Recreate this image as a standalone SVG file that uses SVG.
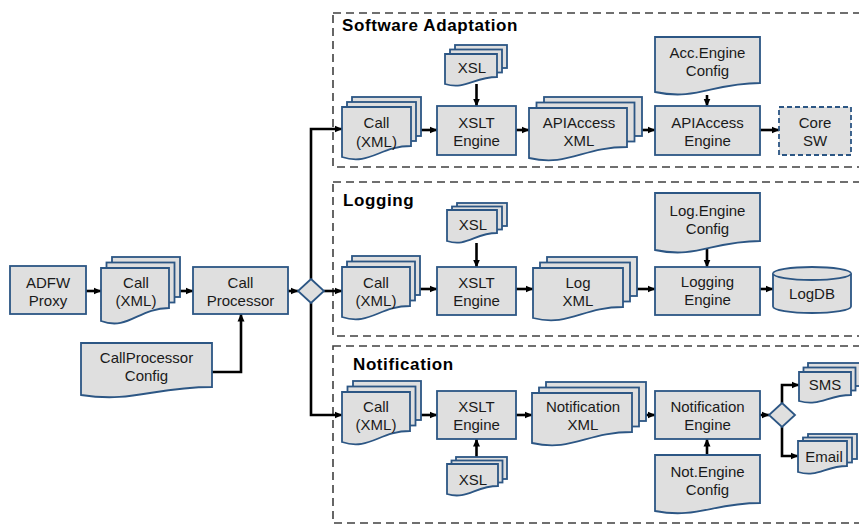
<svg xmlns="http://www.w3.org/2000/svg" width="859" height="526" viewBox="0 0 859 526">
  <defs>
    <marker id="arrow" viewBox="0 0 8 8" refX="7.5" refY="4" markerWidth="8" markerHeight="8" markerUnits="userSpaceOnUse" orient="auto">
      <path d="M0,0.5 L8,4 L0,7.5 Z" fill="#000"/>
    </marker>
    <style>
      .box { fill: #dfdfdf; stroke: #2c5684; stroke-width: 1.8; }
      .dashbox { fill: #dfdfdf; stroke: #2c5684; stroke-width: 1.8; stroke-dasharray: 5 3; }
      .grp { fill: none; stroke: #404040; stroke-width: 1.6; stroke-dasharray: 8 5; }
      .lbl { font-family: "Liberation Sans", Arial, sans-serif; font-size: 15px; fill: #1a1a1a; text-anchor: middle; }
      .title { font-family: "Liberation Sans", Arial, sans-serif; font-size: 17px; font-weight: bold; fill: #000; letter-spacing: 0.6px; }
      .conn { fill: none; stroke: #000; stroke-width: 2.6; marker-end: url(#arrow); }
    </style>
  </defs>

  <rect width="859" height="526" fill="#fff"/>

  <!-- processing lanes -->
  <g id="lanes">
    <rect class="grp" x="333" y="13" width="540" height="154"/>
    <rect class="grp" x="333" y="182" width="540" height="154"/>
    <rect class="grp" x="333" y="346" width="540" height="177"/>
    <text class="title" x="342" y="31">Software Adaptation</text>
    <text class="title" x="343" y="206">Logging</text>
    <text class="title" x="353" y="370">Notification</text>
  </g>

  <!-- connectors -->
  <g id="connectors">
    <path class="conn" d="M86,291 H101"/>
    <path class="conn" d="M180,291 H193"/>
    <path class="conn" d="M288,291 H298"/>
    <path class="conn" d="M212,372 H241 V314"/>
    <path class="conn" d="M324,291 H342"/>
    <path class="conn" d="M311,279 V129 H342"/>
    <path class="conn" d="M311,303 V415 H342"/>

    <path class="conn" d="M421,130 H437"/>
    <path class="conn" d="M516,130 H529"/>
    <path class="conn" d="M642,130 H655"/>
    <path class="conn" d="M476.5,84 V106"/>
    <path class="conn" d="M707,95 V106"/>
    <path class="conn" d="M760,130 H779"/>

    <path class="conn" d="M420,289 H437"/>
    <path class="conn" d="M516,289 H533"/>
    <path class="conn" d="M637,289 H655"/>
    <path class="conn" d="M476.5,243 V267"/>
    <path class="conn" d="M707,249 V267"/>
    <path class="conn" d="M760,289 H773"/>

    <path class="conn" d="M421,415 H437"/>
    <path class="conn" d="M516,415 H532"/>
    <path class="conn" d="M646,415 H655"/>
    <path class="conn" d="M476.5,457 V439"/>
    <path class="conn" d="M707,455 V439"/>
    <path class="conn" d="M760,415 H769"/>
    <path class="conn" d="M782,403 V385 H799"/>
    <path class="conn" d="M782,427 V456 H798"/>
  </g>

  <!-- input stage -->
  <g id="adfw-proxy">
    <rect class="box" x="10" y="266" width="76" height="48"/>
    <text class="lbl" x="48" y="288">ADFW</text>
    <text class="lbl" x="48" y="306">Proxy</text>
  </g>

  <g id="call-xml">
    <rect class="box" x="112" y="257" width="68" height="40"/>
    <rect class="box" x="106.5" y="262.5" width="68" height="40"/>
    <path class="box" d="M101,268 H169 V308 C138.4,308 128.2,331 101,321 Z"/>
    <text class="lbl" x="136" y="288">Call</text>
    <text class="lbl" x="136" y="306">(XML)</text>
  </g>

  <g id="call-processor">
    <rect class="box" x="193" y="267" width="95" height="47"/>
    <text class="lbl" x="240.5" y="288">Call</text>
    <text class="lbl" x="240.5" y="306">Processor</text>
  </g>

  <g id="call-processor-config">
    <path class="box" d="M81,343 H212 V387 C153.05,387 133.4,403 81,395 Z"/>
    <text class="lbl" x="146.5" y="363">CallProcessor</text>
    <text class="lbl" x="146.5" y="381">Config</text>
  </g>

  <g id="dispatch">
    <path class="box" d="M311,279 L324,291 L311,303 L298,291 Z"/>
  </g>

  <!-- software adaptation lane -->
  <g id="sa-call-xml">
    <rect class="box" x="352" y="97" width="69" height="39"/>
    <rect class="box" x="347" y="102" width="69" height="39"/>
    <path class="box" d="M342,107 H411 V146 C379.95,146 369.6,166 342,157 Z"/>
    <text class="lbl" x="376.5" y="128">Call</text>
    <text class="lbl" x="376.5" y="147">(XML)</text>
  </g>

  <g id="sa-xsl">
    <rect class="box" x="455" y="45" width="52" height="23"/>
    <rect class="box" x="450" y="49.5" width="52" height="23"/>
    <path class="box" d="M445,54 H497 V77 C473.6,77 465.8,90 445,84 Z"/>
    <text class="lbl" x="472" y="73">XSL</text>
  </g>

  <g id="sa-xslt-engine">
    <rect class="box" x="437" y="106" width="79" height="49"/>
    <text class="lbl" x="476.5" y="128">XSLT</text>
    <text class="lbl" x="476.5" y="146">Engine</text>
  </g>

  <g id="apiaccess-xml">
    <rect class="box" x="544" y="97" width="98" height="39"/>
    <rect class="box" x="536.5" y="102.5" width="98" height="39"/>
    <path class="box" d="M529,108 H627 V147 C582.9,147 568.2,167 529,158 Z"/>
    <text class="lbl" x="579" y="128">APIAccess</text>
    <text class="lbl" x="579" y="146">XML</text>
  </g>

  <g id="acc-engine-config">
    <path class="box" d="M655,37 H760 V83 C712.75,83 697,101 655,92 Z"/>
    <text class="lbl" x="707.5" y="58">Acc.Engine</text>
    <text class="lbl" x="707.5" y="76">Config</text>
  </g>

  <g id="apiaccess-engine">
    <rect class="box" x="655" y="106" width="105" height="49"/>
    <text class="lbl" x="707.5" y="128">APIAccess</text>
    <text class="lbl" x="707.5" y="146">Engine</text>
  </g>

  <g id="core-sw">
    <rect class="dashbox" x="779" y="107" width="72" height="48"/>
    <text class="lbl" x="815" y="128">Core</text>
    <text class="lbl" x="815" y="146">SW</text>
  </g>

  <!-- logging lane -->
  <g id="log-call-xml">
    <rect class="box" x="352" y="256" width="68" height="39"/>
    <rect class="box" x="347" y="261.5" width="68" height="39"/>
    <path class="box" d="M342,267 H410 V306 C379.4,306 369.2,326 342,317 Z"/>
    <text class="lbl" x="376" y="288">Call</text>
    <text class="lbl" x="376" y="306">(XML)</text>
  </g>

  <g id="log-xsl">
    <rect class="box" x="457" y="203" width="50" height="23"/>
    <rect class="box" x="452" y="206.5" width="50" height="23"/>
    <path class="box" d="M447,210 H497 V233 C474.5,233 467,247.5 447,241 Z"/>
    <text class="lbl" x="473" y="230">XSL</text>
  </g>

  <g id="log-xslt-engine">
    <rect class="box" x="437" y="267" width="79" height="48"/>
    <text class="lbl" x="476.5" y="288">XSLT</text>
    <text class="lbl" x="476.5" y="306">Engine</text>
  </g>

  <g id="log-xml">
    <rect class="box" x="547" y="257" width="90" height="39"/>
    <rect class="box" x="540" y="262.5" width="90" height="39"/>
    <path class="box" d="M533,268 H623 V307 C582.5,307 569,327 533,318 Z"/>
    <text class="lbl" x="578" y="288">Log</text>
    <text class="lbl" x="578" y="306">XML</text>
  </g>

  <g id="log-engine-config">
    <path class="box" d="M655,193 H760 V241 C712.75,241 697,259 655,250 Z"/>
    <text class="lbl" x="707.5" y="216">Log.Engine</text>
    <text class="lbl" x="707.5" y="234">Config</text>
  </g>

  <g id="logging-engine">
    <rect class="box" x="655" y="267" width="105" height="48"/>
    <text class="lbl" x="707.5" y="287">Logging</text>
    <text class="lbl" x="707.5" y="305">Engine</text>
  </g>

  <g id="logdb">
    <path class="box" d="M773,273.5 A39,6.5 0 0 1 851,273.5 V306.5 A39,6.5 0 0 1 773,306.5 Z"/>
    <path class="box" d="M773,273.5 A39,6.5 0 0 0 851,273.5" fill="none"/>
    <text class="lbl" x="812" y="299">LogDB</text>
  </g>

  <!-- notification lane -->
  <g id="not-call-xml">
    <rect class="box" x="353" y="381" width="68" height="39"/>
    <rect class="box" x="347.5" y="386.5" width="68" height="39"/>
    <path class="box" d="M342,392 H410 V431 C379.4,431 369.2,451 342,442 Z"/>
    <text class="lbl" x="376" y="412">Call</text>
    <text class="lbl" x="376" y="430">(XML)</text>
  </g>

  <g id="not-xslt-engine">
    <rect class="box" x="437" y="391" width="79" height="48"/>
    <text class="lbl" x="476.5" y="412">XSLT</text>
    <text class="lbl" x="476.5" y="430">Engine</text>
  </g>

  <g id="not-xsl">
    <rect class="box" x="456" y="457" width="51" height="22"/>
    <rect class="box" x="451.5" y="460.5" width="51" height="22"/>
    <path class="box" d="M447,464 H498 V486 C475.05,486 467.4,500 447,494 Z"/>
    <text class="lbl" x="473" y="485">XSL</text>
  </g>

  <g id="notification-xml">
    <rect class="box" x="546" y="382" width="100" height="39"/>
    <rect class="box" x="539" y="387.5" width="100" height="39"/>
    <path class="box" d="M532,393 H632 V432 C587,432 572,452 532,443 Z"/>
    <text class="lbl" x="583" y="412">Notification</text>
    <text class="lbl" x="583" y="430">XML</text>
  </g>

  <g id="notification-engine">
    <rect class="box" x="655" y="391" width="105" height="48"/>
    <text class="lbl" x="707.5" y="412">Notification</text>
    <text class="lbl" x="707.5" y="430">Engine</text>
  </g>

  <g id="not-engine-config">
    <path class="box" d="M655,455 H760 V503 C712.75,503 697,519 655,511 Z"/>
    <text class="lbl" x="707.5" y="477">Not.Engine</text>
    <text class="lbl" x="707.5" y="495">Config</text>
  </g>

  <g id="channel-select">
    <path class="box" d="M782,403 L795,415 L782,427 L769,415 Z"/>
  </g>

  <g id="sms">
    <rect class="box" x="808" y="363" width="52" height="23"/>
    <rect class="box" x="803.5" y="367.5" width="52" height="23"/>
    <path class="box" d="M799,372 H851 V395 C827.6,395 819.8,407 799,401 Z"/>
    <text class="lbl" x="825" y="390">SMS</text>
  </g>

  <g id="email">
    <rect class="box" x="808" y="434" width="49" height="25"/>
    <rect class="box" x="803" y="437.5" width="49" height="25"/>
    <path class="box" d="M798,441 H847 V466 C824.95,466 817.6,478 798,472 Z"/>
    <text class="lbl" x="824" y="462">Email</text>
  </g>
</svg>
